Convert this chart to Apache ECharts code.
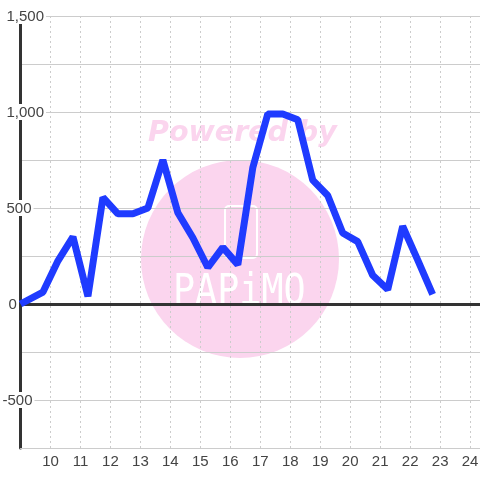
<!DOCTYPE html>
<html><head><meta charset="utf-8">
<style>html,body{margin:0;padding:0;background:#fff}#c{width:480px;height:480px}</style>
<script src="https://cdn.jsdelivr.net/npm/echarts@6/dist/echarts.min.js"></script>
</head><body><div id="c"></div>
<script>
const hours = [9,9.75,10.25,10.75,11.25,11.75,12.25,12.75,13.25,13.75,14.25,14.75,15.25,15.75,16.25,16.75,17.25,17.75,18.25,18.75,19.25,19.75,20.25,20.75,21.25,21.75,22.25,22.75];
const values = [0,62,225,350,40,555,470,470,500,750,475,345,190,295,205,710,990,990,960,645,565,370,325,150,75,405,230,50];
const yLabels = {'1500':'1,500','1000':'1,000','500':'500','0':'0','-500':'-500'};
const yStyle = {'1500':'a','1000':'a','500':'a','0':'z','-500':'n'};
const chart = echarts.init(document.getElementById('c'), null, {renderer:'canvas'});
const lab = {fontSize:15,color:'#444',fontFamily:'Liberation Sans',backgroundColor:'#fff',lineHeight:16,verticalAlign:'middle'};
chart.setOption({
  animation:false,
  backgroundColor:'#fff',
  grid:{left:20.5,right:0,top:16,bottom:32,outerBoundsMode:'none'},
  graphic:[
    {type:'circle',z:-10,shape:{cx:240,cy:259,r:99},style:{fill:'#fbd5ee'}},
    {type:'text',z:-10,x:148,y:119,style:{text:'Powered by',fill:'#fbd5ee',font:'italic bold 28.5px "DejaVu Sans"'}},
    {type:'rect',z:-9,shape:{x:225,y:206,width:32,height:52,r:4},style:{fill:'none',stroke:'#fff',lineWidth:2}},
    {type:'text',z:-9,x:173,y:271,scaleX:1.02,scaleY:1.2,style:{text:'PAPiMO',fill:'#fff',font:'36px "DejaVu Sans Mono"'}}
  ],
  xAxis:[
    {type:'value',min:9,max:24.33,interval:1,
     axisLine:{onZero:false,lineStyle:{color:'#ccc',width:1}},axisTick:{show:false},
     axisLabel:{color:'#444',fontSize:15,fontFamily:'Liberation Sans',margin:6,showMinLabel:false,showMaxLabel:false,
       formatter:v=>Number.isInteger(v)?String(v):''},
     splitLine:{show:true,showMinLine:false,showMaxLine:false,lineStyle:{color:'#ccc',type:[2,3],width:1}}},
    {type:'value',min:9,max:24.33,interval:1,position:'bottom',
     axisLine:{onZero:true,lineStyle:{color:'#333',width:3}},axisTick:{show:false},axisLabel:{show:false},splitLine:{show:false}}
  ],
  yAxis:{type:'value',min:-750,max:1500,interval:250,
    axisLine:{show:true,onZero:false,lineStyle:{color:'#333',width:3}},axisTick:{show:false},
    axisLabel:{margin:18,align:'left',
      formatter:v=>yLabels[v]?'{'+yStyle[v]+'|'+yLabels[v]+'}':'',
      rich:{a:Object.assign({},lab,{padding:[1,2,0,4]}),z:Object.assign({},lab,{padding:[1,2,0,6]}),n:Object.assign({},lab,{padding:[1,2,0,0]})}},
    splitLine:{show:true,lineStyle:{color:'#ccc',width:1}}},
  series:[{type:'line',xAxisIndex:0,yAxisIndex:0,data:hours.map((h,i)=>[h,values[i]]),
    showSymbol:false,symbol:'none',smooth:false,z:5,
    lineStyle:{color:'#1f3bff',width:7,cap:'butt',join:'bevel'}}]
});
</script></body></html>
